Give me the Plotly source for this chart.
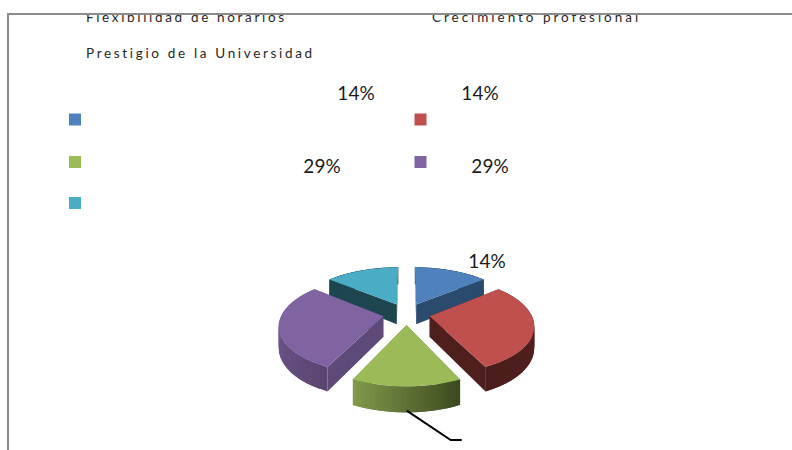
import json

import numpy as np
import plotly.graph_objects as go

# Survey shares, clockwise from twelve o'clock
percentages = [14, 29, 14, 29, 14]
legend_names = ["Flexibilidad de horarios", "Crecimiento profesional",
                "Prestigio de la Universidad"]
name_tracking = [2.67, 2.97, 2.67]
top_colors = ["#4F81BD", "#C0504D", "#9BBB59", "#8064A2", "#4BACC6"]
cut_colors = ["#2A4A6E", "#4E1F1D", "#4A5A2A", "#5E4A78", "#1D4650"]
# Outer wall shade at the clockwise start and end of each slice
wall_from = ["#2A4A6E", "#5A2422", "#3C4A20", "#5B4673", "#1D4650"]
wall_to = ["#2A4A6E", "#4A1D1B", "#80994A", "#80649F", "#1D4650"]
draw_order = [4, 0, 3, 1, 2]

# Label and legend placement, in page pixels
label_x_by_slice = [487, 490, 480, 322, 356]
label_y_by_slice = [263.5, 168, 95, 168, 95]
swatch_x = [75, 420.5, 75, 420.5, 75]
swatch_y = [119.5, 119.5, 162, 162, 203]
name_x = [86, 432, 86]
name_y = [19, 19, 54.5]
leader_x = [406.7, 450.7, 461.7]
leader_y = [410.7, 440, 440]

# Projection of the tilted pie
CX, CY = 406.5, 314
RADIUS, TILT, PERSPECTIVE = 101.5, 46.5, 0.17
EXPLODE, DEPTH = 0.232, 20.5


def project(x, y, z=0.0):
    s = 1 / (1 + PERSPECTIVE * y)
    return CX + s * RADIUS * x, CY - s * TILT * y + s * z


def hex_mix(a, b, t):
    ca = [int(a[i:i + 2], 16) for i in (1, 3, 5)]
    cb = [int(b[i:i + 2], 16) for i in (1, 3, 5)]
    return "rgb(%d,%d,%d)" % tuple(round(p + (q - p) * t) for p, q in zip(ca, cb))


def polygon(xs, ys, color):
    return go.Scatter(x=list(xs) + [xs[0]], y=list(ys) + [ys[0]], mode="lines",
                      fill="toself", fillcolor=color,
                      line=dict(color=color, width=0),
                      hoverinfo="skip", showlegend=False)


fig = go.Figure()
edges = np.radians(np.concatenate([[0], np.cumsum(percentages)]) * 3.6)

for i in draw_order:
    a0, a1 = edges[i], edges[i + 1]
    mid = (a0 + a1) / 2
    ox, oy = EXPLODE * np.sin(mid), EXPLODE * np.cos(mid)
    arc = np.linspace(a0, a1, 25)
    ax, ay = ox + np.sin(arc), oy + np.cos(arc)

    # Cut faces running from the apex out to each rim corner
    for a in (a0, a1):
        px, py = project(np.array([ox, ox + np.sin(a)]), np.array([oy, oy + np.cos(a)]))
        qx, qy = project(np.array([ox, ox + np.sin(a)]), np.array([oy, oy + np.cos(a)]), DEPTH)
        fig.add_trace(polygon([px[0], px[1], qx[1], qx[0]],
                              [py[0], py[1], qy[1], qy[0]], cut_colors[i]))

    # Curved outer wall, shaded band by band; each band runs on under the next
    tx, ty = project(ax, ay)
    bx, by = project(ax, ay, DEPTH)
    for k in range(len(arc) - 1):
        e = min(k + 2, len(arc) - 1)
        fig.add_trace(polygon([tx[k], tx[e], bx[e], bx[k]],
                              [ty[k], ty[e], by[e], by[k]],
                              hex_mix(wall_from[i], wall_to[i], k / (len(arc) - 2))))

    # Top face
    ax0, ay0 = project(np.array([ox]), np.array([oy]))
    fig.add_trace(polygon(np.r_[ax0, tx], np.r_[ay0, ty], top_colors[i]))

# Leader line for the detached label
fig.add_trace(go.Scatter(x=leader_x, y=leader_y, mode="lines",
                         line=dict(color="#000000", width=2),
                         hoverinfo="skip", showlegend=False))

# Legend keys and names
fig.add_trace(go.Scatter(x=swatch_x, y=swatch_y, mode="markers",
                         marker=dict(symbol="square", size=12, color=top_colors, line=dict(width=0)),
                         hoverinfo="skip", showlegend=False))
fig.add_trace(go.Scatter(x=name_x, y=name_y, mode="text", text=legend_names,
                         textposition="middle right",
                         textfont=dict(family="Lato", size=13.5, color="#262626"),
                         hoverinfo="skip", showlegend=False))

# Percentage labels
fig.add_trace(go.Scatter(x=label_x_by_slice, y=label_y_by_slice, mode="text",
                         text=[f"{v}%" for v in percentages],
                         textposition="middle center",
                         textfont=dict(family="Lato", size=19, color="#1a1a1a"),
                         hoverinfo="skip", showlegend=False))

fig.update_xaxes(range=[9, 792], visible=True, showgrid=False, zeroline=False,
                 showticklabels=False, ticks="", side="top", showline=True,
                 linecolor="#8c8c8c", linewidth=2)
fig.update_yaxes(range=[450, 15], visible=True, showgrid=False, zeroline=False,
                 showticklabels=False, ticks="", showline=True, linecolor="#8c8c8c",
                 linewidth=2)
fig.update_layout(width=792, height=450, margin=dict(l=9, r=0, t=15, b=0, autoexpand=False),
                  plot_bgcolor="#ffffff", paper_bgcolor="#ffffff", showlegend=False)

# Tracked-out legend names
tracking = dict(zip(legend_names, name_tracking))
spacing = ("var tracking=%s;document.querySelectorAll('.textpoint text').forEach(function(t){"
           "var v=tracking[t.textContent];if(v){t.style.letterSpacing=v+'px';}});"
           % json.dumps(tracking))
fig.write_html("out.html", post_script=spacing, config={"displayModeBar": False})
